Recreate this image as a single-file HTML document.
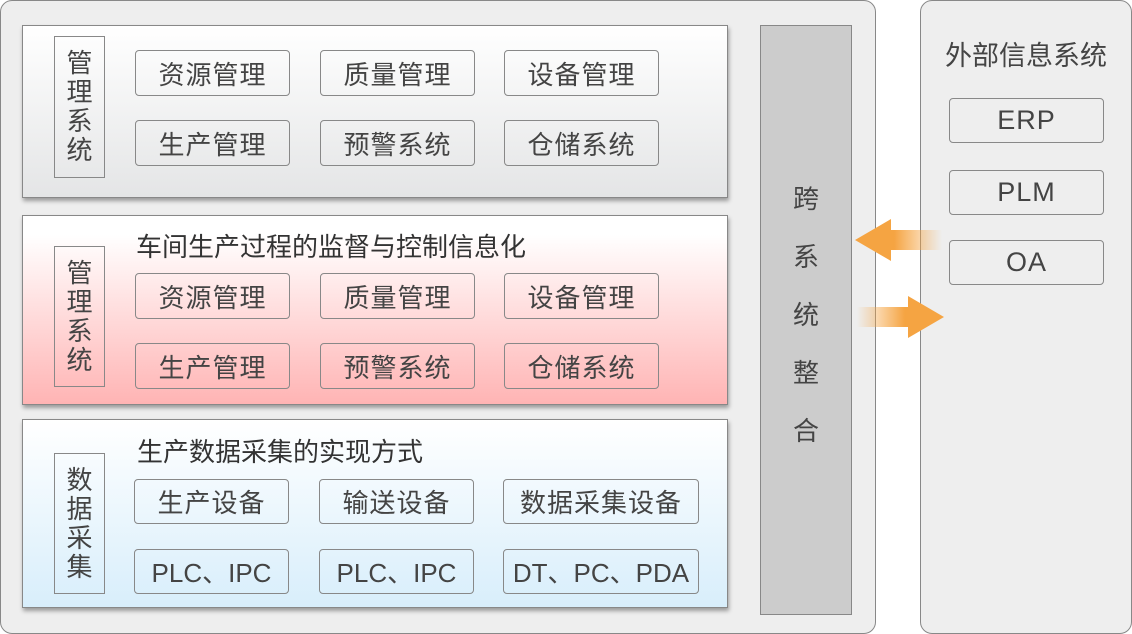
<!DOCTYPE html>
<html><head><meta charset="utf-8"><style>
*{margin:0;padding:0;box-sizing:border-box}
body{width:1132px;height:634px;background:#fff;position:relative;overflow:hidden;font-family:"Liberation Sans","Noto Sans CJK SC",sans-serif;color:#444}
.a{position:absolute}
.outer{left:0;top:0;width:876px;height:634px;background:#eee;border:1px solid #888;border-radius:12px}
.right{left:920px;top:0;width:212px;height:634px;background:#eee;border:1px solid #888;border-radius:12px}
.panel{border:1px solid #888;box-shadow:1px 3px 4px rgba(0,0,0,.35)}
.b{position:absolute;border:1px solid #888;border-radius:4px;display:flex;align-items:center;justify-content:center;font-size:26px;color:#444;letter-spacing:1px}
.v{position:absolute;border:1px solid #888;width:51px;font-size:26px;line-height:29px;text-align:center;display:flex;flex-direction:column;justify-content:center;color:#444}
.t{position:absolute;font-size:26px;color:#333}
</style></head><body>
<div class="a outer"></div>
<div class="a right"></div>
<div class="a panel" style="left:22px;top:25px;width:706px;height:173px;background:linear-gradient(#fff,#e4e5e6)"></div>
<div class="a panel" style="left:22px;top:215px;width:706px;height:190px;background:linear-gradient(#fff 10%,#ffb4b4)"></div>
<div class="a panel" style="left:22px;top:419px;width:706px;height:189px;background:linear-gradient(#fff,#d8eefb)"></div>
<div class="a" style="left:760px;top:25px;width:92px;height:590px;background:#ccc;border:1px solid #888"></div>
<div class="a" style="left:760px;top:25px;width:92px;height:590px;display:flex;flex-direction:column;align-items:center;justify-content:center;font-size:26px;line-height:58px;color:#444;padding-bottom:10px"><span>跨</span><span>系</span><span>统</span><span>整</span><span>合</span></div>

<div class="v" style="left:54px;top:36px;height:142px">管<br>理<br>系<br>统</div>
<div class="v" style="left:54px;top:246px;height:141px">管<br>理<br>系<br>统</div>
<div class="v" style="left:54px;top:453px;height:141px">数<br>据<br>采<br>集</div>

<div class="b" style="left:135px;top:50px;width:155px;height:46px">资源管理</div>
<div class="b" style="left:320px;top:50px;width:155px;height:46px">质量管理</div>
<div class="b" style="left:504px;top:50px;width:155px;height:46px">设备管理</div>
<div class="b" style="left:135px;top:120px;width:155px;height:46px">生产管理</div>
<div class="b" style="left:320px;top:120px;width:155px;height:46px">预警系统</div>
<div class="b" style="left:504px;top:120px;width:155px;height:46px">仓储系统</div>

<div class="t" style="left:136px;top:227px">车间生产过程的监督与控制信息化</div>
<div class="b" style="left:135px;top:273px;width:155px;height:46px">资源管理</div>
<div class="b" style="left:320px;top:273px;width:155px;height:46px">质量管理</div>
<div class="b" style="left:504px;top:273px;width:155px;height:46px">设备管理</div>
<div class="b" style="left:135px;top:343px;width:155px;height:46px">生产管理</div>
<div class="b" style="left:320px;top:343px;width:155px;height:46px">预警系统</div>
<div class="b" style="left:504px;top:343px;width:155px;height:46px">仓储系统</div>

<div class="t" style="left:137px;top:432px">生产数据采集的实现方式</div>
<div class="b" style="left:134px;top:479px;width:155px;height:45px">生产设备</div>
<div class="b" style="left:319px;top:479px;width:155px;height:45px">输送设备</div>
<div class="b" style="left:503px;top:479px;width:196px;height:45px">数据采集设备</div>
<div class="b" style="left:134px;top:549px;width:155px;height:45px;letter-spacing:0">PLC、IPC</div>
<div class="b" style="left:319px;top:549px;width:155px;height:45px;letter-spacing:0">PLC、IPC</div>
<div class="b" style="left:503px;top:549px;width:196px;height:45px;letter-spacing:0">DT、PC、PDA</div>

<div class="t" style="left:945px;top:34px;color:#444;font-size:27px">外部信息系统</div>
<div class="b" style="left:949px;top:98px;width:155px;height:45px;font-size:27px">ERP</div>
<div class="b" style="left:949px;top:170px;width:155px;height:45px;font-size:27px">PLM</div>
<div class="b" style="left:949px;top:240px;width:155px;height:45px;font-size:27px">OA</div>

<svg class="a" style="left:850px;top:210px" width="100" height="130">
<defs>
<linearGradient id="gl" x1="0" x2="1"><stop offset="0.45" stop-color="#f5a442"/><stop offset="1" stop-color="#f5a442" stop-opacity="0"/></linearGradient>
<linearGradient id="gr" x1="1" x2="0"><stop offset="0.45" stop-color="#f5a442"/><stop offset="1" stop-color="#f5a442" stop-opacity="0"/></linearGradient>
</defs>
<polygon points="5,30 41,9 41,20 92,20 92,40 41,40 41,51" fill="url(#gl)"/>
<polygon points="94,107 58,86 58,97 7,97 7,117 58,117 58,128" fill="url(#gr)"/>
</svg>
</body></html>
